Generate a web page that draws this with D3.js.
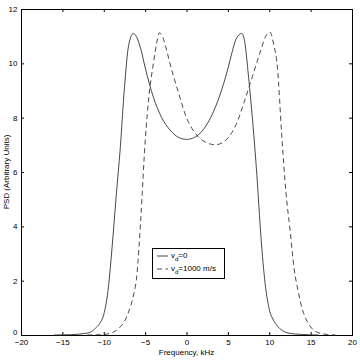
<!DOCTYPE html>
<html><head><meta charset="utf-8">
<script src="https://cdn.jsdelivr.net/npm/d3@7"></script>
<style>body{margin:0;background:#fff}svg{display:block}text{font-family:"Liberation Sans",Arial,Helvetica,sans-serif}</style>
</head><body><svg id="c" width="360" height="360"></svg>
<script>
const xTicks = [-20,-15,-10,-5,0,5,10,15,20];
const yTicks = [0,2,4,6,8,10,12];
// v_d = 0 (solid)
const freqA = [-16,-15,-14,-13,-12.5,-12,-11.5,-11,-10.5,-10,-9.5,-9,-8.5,-8,-7.5,-7,-6.43,-6,-5.5,-5,-4,-3,-2,-1,0,1,2,3,4,5,5.5,6,6.67,7,7.5,8,8.5,9,9.5,10,10.5,11,11.5,12,12.5,13,14,15,16];
const psdA  = [0,0.005,0.01,0.03,0.05,0.07,0.12,0.25,0.42,0.75,1.6,3.2,5.1,6.9,9.1,10.65,11.1,10.95,10.5,9.85,8.75,8.0,7.55,7.28,7.2,7.28,7.55,8.05,8.8,9.8,10.4,10.9,11.1,10.85,9.5,7.85,5.9,3.6,1.9,0.95,0.55,0.32,0.18,0.1,0.06,0.04,0.02,0.005,0];
// v_d = 1000 m/s (dashed)
const freqB = [-12,-11,-10,-9.5,-9,-8.5,-8,-7.5,-7,-6.5,-6,-5.5,-5,-4.5,-4,-3.5,-3.29,-3,-2.5,-2,-1.5,-1,0,1,2,3,3.6,4,5,6,7,8,9,9.5,10.09,10.5,11,11.5,12,12.5,13,13.5,14,14.5,15,15.5,16,16.5,17,18];
const psdB  = [0,0.005,0.02,0.04,0.08,0.17,0.3,0.5,0.85,1.35,2.2,4.4,7.1,8.9,10.0,10.9,11.12,11.05,10.6,10.0,9.45,8.95,8.0,7.45,7.15,7.02,7.0,7.03,7.25,7.75,8.6,9.55,10.5,10.95,11.15,10.75,9.8,7.4,5.3,3.9,2.45,1.6,0.95,0.55,0.3,0.15,0.08,0.04,0.02,0];

const svg = d3.select("#c");
const L=21,R=352,T=9,B=335;
const x = d3.scaleLinear().domain([-20,20]).range([L,R]);
const y = d3.scaleLinear().domain([0,12]).range([B,T]);
const fs = 8;

// box
svg.append("rect").attr("x",L).attr("y",T).attr("width",R-L).attr("height",B-T)
  .attr("fill","none").attr("stroke","#000").attr("stroke-width",1).attr("shape-rendering","crispEdges");

const tl = 3;
const gx = svg.append("g").attr("transform",`translate(0,${B})`)
  .call(d3.axisBottom(x).tickValues(xTicks).tickSizeInner(-tl).tickSizeOuter(0).tickPadding(4).tickFormat(d=>d<0?"\u2212"+(-d):d));
const gxt = svg.append("g").attr("transform",`translate(0,${T})`)
  .call(d3.axisTop(x).tickValues(xTicks).tickSizeInner(-tl).tickSizeOuter(0).tickFormat(""));
const gy = svg.append("g").attr("transform",`translate(${L},0)`)
  .call(d3.axisLeft(y).tickValues(yTicks).tickSizeInner(-tl).tickSizeOuter(0).tickPadding(3.5));
const gyr = svg.append("g").attr("transform",`translate(${R},0)`)
  .call(d3.axisRight(y).tickValues(yTicks).tickSizeInner(-tl).tickSizeOuter(0).tickFormat(""));
[gx,gxt,gy,gyr].forEach(g=>{
  g.select(".domain").remove();
  g.selectAll("line").attr("stroke","#000");
  g.selectAll("text").attr("font-size",fs).attr("fill","#000").attr("font-family",'"Liberation Sans",Arial,sans-serif');
});
gx.selectAll("text").attr("dy","0.71em");
gy.selectAll("text").filter(d=>d===0).attr("dy","-0.1em");

svg.append("text").attr("x",(L+R)/2).attr("y",355).attr("text-anchor","middle")
  .attr("font-size",fs).text("Frequency, kHz");
svg.append("text").attr("transform",`translate(9,${(T+B)/2}) rotate(-90)`).attr("text-anchor","middle")
  .attr("font-size",fs).text("PSD (Arbitrary Units)");

const line = d3.line().x(d=>x(d[0])).y(d=>y(d[1])).curve(d3.curveMonotoneX);
svg.append("path").datum(freqA.map((f,i)=>[f,psdA[i]])).attr("d",line)
  .attr("fill","none").attr("stroke","#333").attr("stroke-width",0.9);
svg.append("path").datum(freqB.map((f,i)=>[f,psdB[i]])).attr("d",line)
  .attr("fill","none").attr("stroke","#333").attr("stroke-width",0.9).attr("stroke-dasharray","5,3.5");

// legend
const lg = svg.append("g");
lg.append("rect").attr("x",152.5).attr("y",248.5).attr("width",72).attr("height",30)
  .attr("fill","#fff").attr("stroke","#000").attr("stroke-width",1);
const items = [{lab:"=0",dash:null,yy:256},{lab:"=1000 m/s",dash:"5,3.5",yy:269}];
items.forEach(it=>{
  lg.append("line").attr("x1",157).attr("x2",168).attr("y1",it.yy).attr("y2",it.yy)
    .attr("stroke","#333").attr("stroke-width",0.9).attr("stroke-dasharray",it.dash);
  const t = lg.append("text").attr("x",171).attr("y",it.yy+2).attr("font-size",fs);
  t.append("tspan").text("v");
  t.append("tspan").attr("font-size",6).attr("dy",2.5).text("d");
  t.append("tspan").attr("dy",-2.5).text(it.lab);
});
</script></body></html>
